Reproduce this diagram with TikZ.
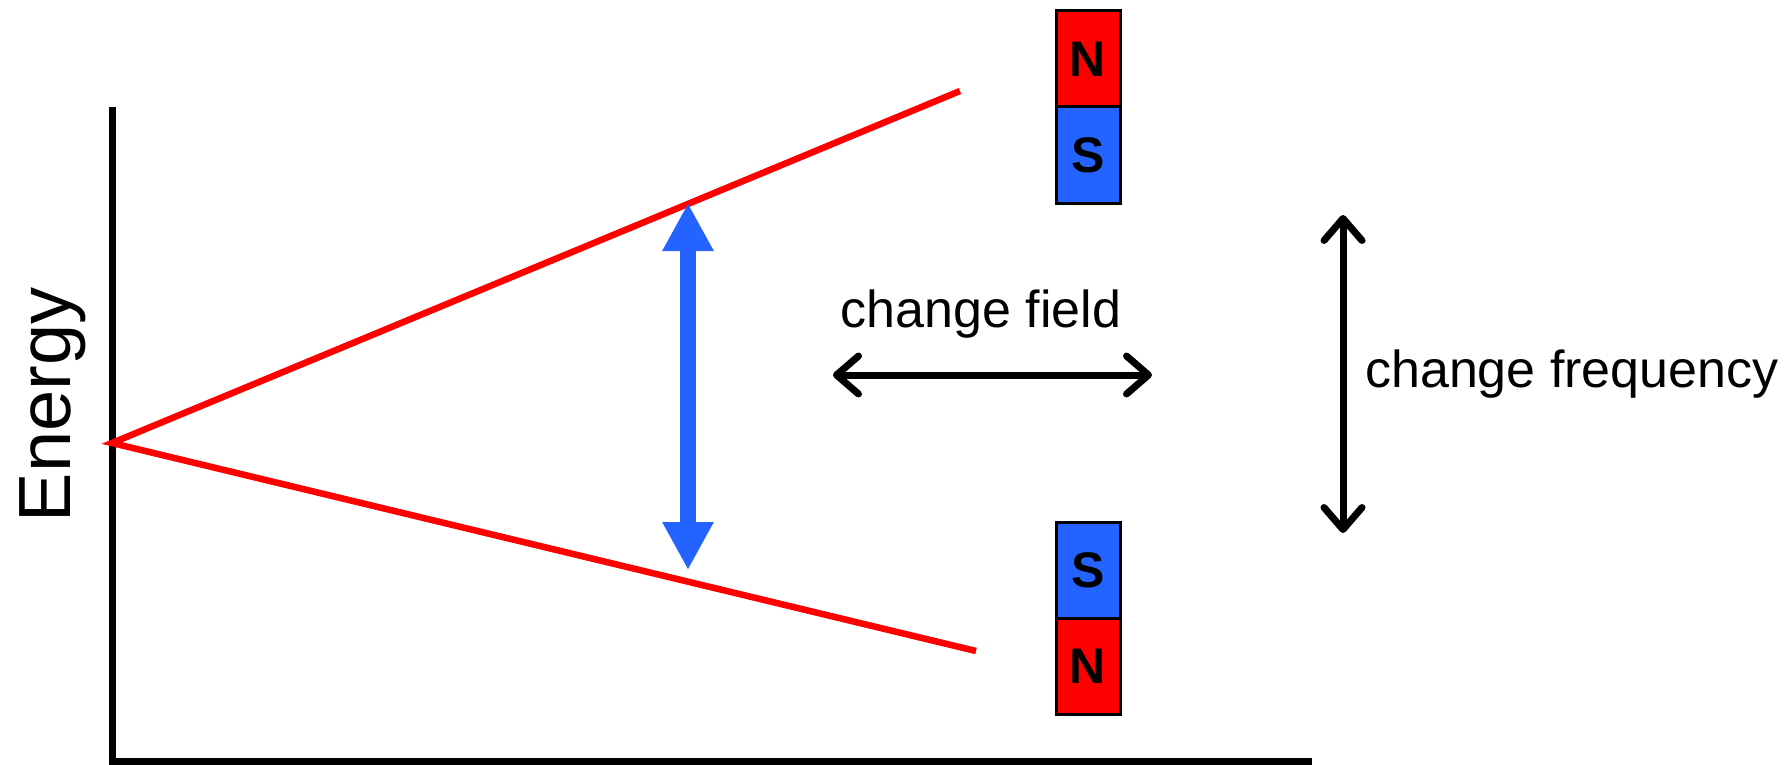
\documentclass[tikz,border=0pt]{standalone}
\usepackage{fontspec}
\setmainfont{Liberation Sans}
\usepackage{xcolor}
\usetikzlibrary{arrows.meta,positioning}
\definecolor{magred}{RGB}{255,0,0}
\definecolor{magblue}{RGB}{36,99,255}

\begin{document}
\begin{tikzpicture}[
  x=1pt, y=-1pt,
  axis/.style={line width=7pt},
  level/.style={draw=magred, line width=6.5pt},
  pole/.style={draw, line width=3pt, minimum width=64pt, minimum height=96pt,
               inner sep=0pt, outer sep=0pt, font=\fontsize{50}{50}\selectfont\bfseries},
  npole/.style={pole, fill=magred},
  spole/.style={pole, fill=magblue},
  lbl/.style={font=\fontsize{52}{60}\selectfont, inner sep=0pt},
  trans/.style={draw=magblue, line width=16pt,
                {Triangle[length=48pt,width=48pt]}-{Triangle[length=48pt,width=48pt]}},
  ctrl/.style={line width=7pt,
               {Straight Barb[length=22pt,width=38pt,round]}-{Straight Barb[length=22pt,width=38pt,round]}},
]
\useasboundingbox (0,0) rectangle (1792,765);
\coordinate (yTop) at (112,107);
\coordinate (xEnd) at (1312,761);
\coordinate (origin) at (112,443);
\coordinate (upE) at (960,91);
\coordinate (loE) at (976,651);
\coordinate (upT) at (688,203);
\coordinate (loT) at (688,570);
\coordinate (fieldL) at (833,375);
\coordinate (fieldR) at (1152,375);
\coordinate (freqT) at (1343,215);
\coordinate (freqB) at (1343,533);
\draw[axis] (yTop) |- (xEnd);
\draw[level] (upE) -- (origin) -- (loE);
\draw[trans] (upT) -- (loT);
\node[lbl, font=\fontsize{74}{80}\selectfont, rotate=90, anchor=base] (energy) at (70,405) {Energy};
\node[npole] (nTop) at (1088,59) {N};
\node[spole, below=0pt of nTop] (sTop) {S};
\node[spole] (sBot) at (1088,570) {S};
\node[npole, below=0pt of sBot] (nBot) {N};
\node[lbl, anchor=base] (field) at (981,327) {change field};
\draw[ctrl] (fieldL) -- (fieldR);
\node[lbl, anchor=base west] (freq) at (1365,387) {change frequency};
\draw[ctrl] (freqT) -- (freqB);
\end{tikzpicture}
\end{document}
